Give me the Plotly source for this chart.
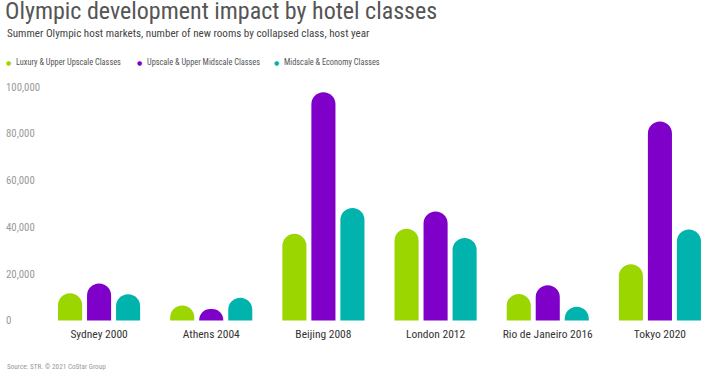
import plotly.graph_objects as go

categories = ["Sydney 2000", "Athens 2004", "Beijing 2008", "London 2012", "Rio de Janeiro 2016", "Tokyo 2020"]
series_names = ["Luxury & Upper Upscale Classes", "Upscale & Upper Midscale Classes", "Midscale & Economy Classes"]
luxury_upper_upscale = [11700, 6400, 37100, 39300, 11400, 24100]
upscale_upper_midscale = [15800, 4900, 97800, 46700, 15100, 85200]
midscale_economy = [11200, 9700, 48200, 35300, 5900, 39000]
tick_values = [0, 20000, 40000, 60000, 80000, 100000]
tick_labels = ["0", "20,000", "40,000", "60,000", "80,000", "100,000"]
colors = ["#9bd600", "#7f00c9", "#00b4ad"]

W, H = 716, 378
ML, MR, MT, MB = 0, 0, 80, 40
PW = W - ML - MR
PH = H - MT - MB
FONT = "Roboto Condensed, Roboto, sans-serif"

# pixel geometry of the value axis
Y_ZERO = 320.5          # pixel row of value 0
PX_PER_UNIT = 233.5 / 100000
Y_MIN, Y_MAX = -3000, 103000
y_bottom_px = Y_ZERO - Y_MIN * PX_PER_UNIT
y_top_px = Y_ZERO - Y_MAX * PX_PER_UNIT


def px_x(X):
    return (X - ML) / PW


def px_y(Y):
    return (H - MB - Y) / PH


def clamp(v):
    return max(0.0, min(1.0, v))


fig = go.Figure()
for name, vals, col in zip(series_names, [luxury_upper_upscale, upscale_upper_midscale, midscale_economy], colors):
    fig.add_trace(go.Bar(
        x=categories, y=vals, name=name,
        marker=dict(color=col, cornerradius="50%", line=dict(width=0)),
        showlegend=False,
    ))

annotations = []
annotations.append(dict(
    text="Summer Olympic host markets, number of new rooms by collapsed class, host year",
    xref="paper", yref="paper", x=px_x(5), y=px_y(34), xanchor="left", yanchor="middle",
    showarrow=False, font=dict(family=FONT, size=11.1, color="#444444"),
))
legend_dots = [8, 139, 276]
for name, col, dx in zip(series_names, colors, legend_dots):
    annotations.append(dict(
        text="●", xref="paper", yref="paper", x=px_x(dx), y=px_y(62), xanchor="center", yanchor="middle",
        showarrow=False, font=dict(family="DejaVu Sans", size=6, color=col),
    ))
    annotations.append(dict(
        text=name, xref="paper", yref="paper", x=px_x(dx + 6), y=px_y(62), xanchor="left", yanchor="middle",
        showarrow=False, font=dict(family=FONT, size=8.3, color="#555555"),
    ))
annotations.append(dict(
    text="Source: STR. © 2021 CoStar Group",
    xref="paper", yref="paper", x=px_x(5), y=px_y(366), xanchor="left", yanchor="middle",
    showarrow=False, font=dict(family=FONT, size=7.2, color="#999999"),
))

fig.update_layout(
    width=W, height=H, autosize=False,
    margin=dict(l=ML, r=MR, t=MT, b=MB, pad=0),
    paper_bgcolor="white", plot_bgcolor="white",
    barmode="group", bargap=0.224, bargroupgap=0.17,
    title=dict(
        text="Olympic development impact by hotel classes",
        xref="container", yref="container", x=5 / W, y=1 - 2.5 / H,
        xanchor="left", yanchor="top",
        font=dict(family=FONT, size=24, color="#555555"),
    ),
    xaxis=dict(
        domain=[px_x(43), 1], anchor="free", position=px_y(Y_ZERO),
        showline=False, showgrid=False, zeroline=False,
        ticks="", ticklabelstandoff=5,
        tickfont=dict(family=FONT, size=11.5, color="#333333"),
    ),
    yaxis=dict(
        range=[Y_MIN, Y_MAX], domain=[clamp(px_y(y_bottom_px)), clamp(px_y(y_top_px))],
        anchor="free", position=0,
        showline=False, showgrid=False, zeroline=False, ticks="",
        tickvals=tick_values, ticktext=tick_labels,
        ticklabelposition="inside", automargin=False, ticklabelstandoff=2,
        tickfont=dict(family=FONT, size=10.8, color="#999999"),
    ),
    annotations=annotations,
    showlegend=False,
)

fig.write_html("out.html")
